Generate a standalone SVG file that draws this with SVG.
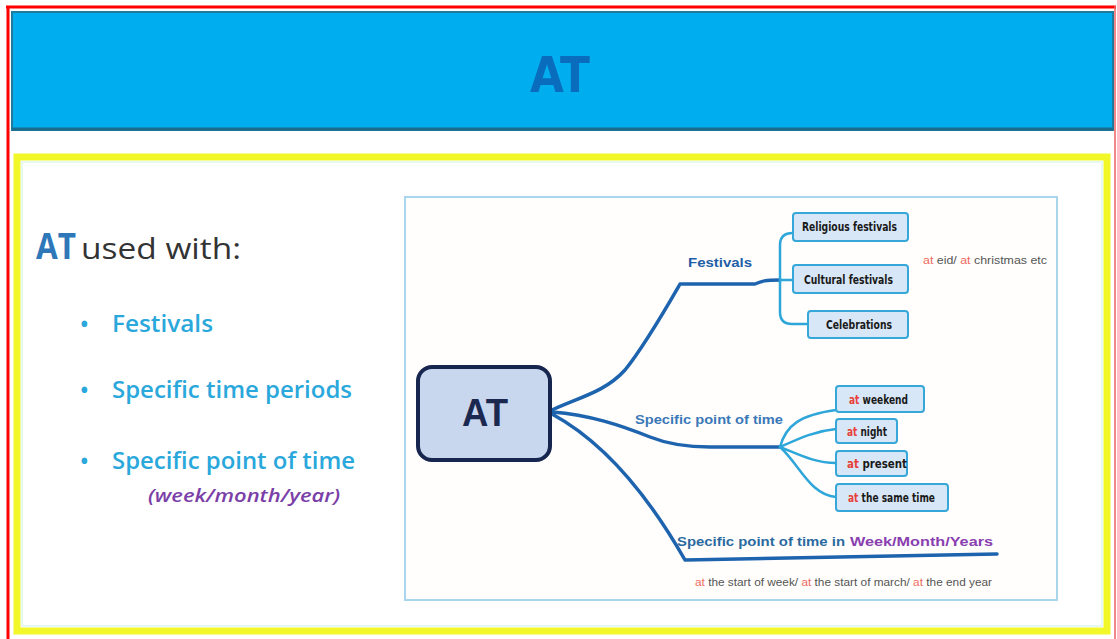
<svg xmlns="http://www.w3.org/2000/svg" width="1117" height="639" viewBox="0 0 1117 639">
  <style>
    .ttl { font-family: "Liberation Sans Narrow", "DejaVu Sans Condensed", "Liberation Sans", sans-serif; font-weight: bold; }
    .body { font-family: "Open Sans", "Liberation Sans", sans-serif; }
    .bul { fill: #2AA8DC; font-size: 23px; font-weight: 600; }
    .main { fill: none; stroke: #1D63AE; stroke-width: 3.5; stroke-linecap: round; stroke-linejoin: round; }
    .sub { fill: none; stroke: #2EA6DA; stroke-width: 2.5; stroke-linecap: round; }
    .box { fill: #D8E7F7; stroke: #35A7D8; stroke-width: 2; }
    .bx { font-family: "Liberation Sans Narrow", "DejaVu Sans Condensed", "Liberation Sans", sans-serif; font-weight: bold; font-size: 12px; fill: #1a1a1a; }
    .red { fill: #E8403A; }
    .lbl { font-family: "Liberation Sans", sans-serif; font-weight: bold; font-size: 12px; }
    .note { font-family: "Liberation Sans Narrow", "Liberation Sans", sans-serif; font-size: 11px; fill: #555; }
    .nred { fill: #EE6A60; }
  </style>

  <!-- page background and red outline -->
  <rect x="0" y="0" width="1117" height="639" fill="#ffffff"/>
  <line x1="8" y1="6" x2="8" y2="639" stroke="#FF0000" stroke-width="3"/>
  <line x1="6" y1="7" x2="1116" y2="7" stroke="#FF0000" stroke-width="3"/>
  <line x1="1115" y1="6" x2="1115" y2="639" stroke="#F06060" stroke-width="1.5"/>

  <!-- title bar -->
  <g id="title">
    <rect x="12" y="12" width="1101" height="118" fill="#00AEEF" stroke="#1F7A9E" stroke-width="2"/>
    <line x1="12" y1="129" x2="1113" y2="129" stroke="#1A6C8C" stroke-width="3"/>
    <text class="ttl" x="560" y="92" font-size="50" fill="#0A6CBC" text-anchor="middle" textLength="60" lengthAdjust="spacingAndGlyphs">AT</text>
  </g>

  <!-- yellow frame -->
  <rect x="17" y="157" width="1090" height="474" fill="#FFFFFF" stroke="#F2F72A" stroke-width="7"/>
  <rect x="22" y="162" width="1080" height="464" fill="none" stroke="#DFF6F0" stroke-width="1.5"/>

  <!-- bullet list -->
  <g id="usage-list">
    <text class="body" x="36" y="259" font-size="36" font-weight="bold" fill="#2E77B8" textLength="40" lengthAdjust="spacingAndGlyphs">AT</text>
    <text class="body" x="81" y="259" font-size="30" fill="#333333" textLength="160" lengthAdjust="spacingAndGlyphs">used with:</text>
    <g class="body bul">
      <text x="80" y="332">•</text>
      <text x="112" y="332" textLength="101" lengthAdjust="spacingAndGlyphs">Festivals</text>
      <text x="80" y="398">•</text>
      <text x="112" y="398" textLength="240" lengthAdjust="spacingAndGlyphs">Specific time periods</text>
      <text x="80" y="469">•</text>
      <text x="112" y="469" textLength="243" lengthAdjust="spacingAndGlyphs">Specific point of time</text>
    </g>
    <text class="body" x="148" y="502" font-size="18" font-style="italic" font-weight="600" fill="#7B3FA8" textLength="192" lengthAdjust="spacingAndGlyphs">(week/month/year)</text>
  </g>

  <!-- mind map panel -->
  <rect x="405" y="197" width="652" height="403" fill="#FFFEFC" stroke="#A9D6EC" stroke-width="2"/>

  <!-- connectors -->
  <g id="connectors">
    <path class="main" d="M552,410 C580,397 605,392 625,370 C645,345 665,310 680,284 L755,284 C762,281 765,280 780,280"/>
    <path class="main" d="M552,412 C590,415 620,425 650,437 C670,445 690,447 710,447 L780,447"/>
    <path class="main" d="M552,414 C600,440 645,490 685,560 L840,557 L997,554"/>
    <path class="sub" d="M780,282 V245 Q780,233 793,233"/>
    <path class="sub" d="M780,280 H793"/>
    <path class="sub" d="M780,282 V312 Q780,324 792,324 H808"/>
    <path class="sub" d="M780,447 C786,425 800,415 836,410"/>
    <path class="sub" d="M780,447 C800,438 815,431 836,429"/>
    <path class="sub" d="M780,447 C800,455 815,463 836,463"/>
    <path class="sub" d="M780,447 C800,465 810,495 836,497"/>
  </g>

  <!-- central node -->
  <g id="node-at">
    <rect x="418" y="367" width="132" height="93" rx="14" fill="#C9D7EE" stroke="#17264F" stroke-width="4"/>
    <text x="485" y="426" font-family="Liberation Sans, sans-serif" font-weight="bold" font-size="38" fill="#1B2850" text-anchor="middle" textLength="46" lengthAdjust="spacingAndGlyphs">AT</text>
  </g>

  <!-- branch labels -->
  <g id="label-festivals">
    <text class="lbl" x="688" y="267" fill="#1F5FA8" textLength="64" lengthAdjust="spacingAndGlyphs">Festivals</text>
  </g>
  <g id="label-point">
    <text class="lbl" x="635" y="424" fill="#3A78B8" textLength="148" lengthAdjust="spacingAndGlyphs">Specific point of time</text>
  </g>
  <g id="label-week">
    <text class="lbl" x="677" y="546" fill="#2A6AA0" textLength="168" lengthAdjust="spacingAndGlyphs">Specific point of time in</text>
    <text class="lbl" x="850" y="546" fill="#8A3FB0" textLength="143" lengthAdjust="spacingAndGlyphs">Week/Month/Years</text>
  </g>

  <!-- festival leaves -->
  <g id="node-religious">
    <rect class="box" x="793" y="213" width="115" height="28" rx="3"/>
    <text class="bx" x="802" y="231" textLength="95" lengthAdjust="spacingAndGlyphs">Religious festivals</text>
  </g>
  <g id="node-cultural">
    <rect class="box" x="793" y="265" width="115" height="28" rx="3"/>
    <text class="bx" x="804" y="284" textLength="89" lengthAdjust="spacingAndGlyphs">Cultural festivals</text>
  </g>
  <g id="node-celebrations">
    <rect class="box" x="808" y="311" width="100" height="27" rx="3"/>
    <text class="bx" x="826" y="329" textLength="66" lengthAdjust="spacingAndGlyphs">Celebrations</text>
  </g>
  <g id="note-festivals">
    <text class="note" x="923" y="264" textLength="124" lengthAdjust="spacingAndGlyphs"><tspan class="nred">at</tspan> eid/ <tspan class="nred">at</tspan> christmas etc</text>
  </g>

  <!-- point-of-time leaves -->
  <g id="node-weekend">
    <rect class="box" x="836" y="386" width="88" height="26" rx="3"/>
    <text class="bx" x="849" y="404" textLength="59" lengthAdjust="spacingAndGlyphs"><tspan class="red">at</tspan> weekend</text>
  </g>
  <g id="node-night">
    <rect class="box" x="836" y="419" width="61" height="24" rx="3"/>
    <text class="bx" x="847" y="436" textLength="40" lengthAdjust="spacingAndGlyphs"><tspan class="red">at</tspan> night</text>
  </g>
  <g id="node-present">
    <rect class="box" x="836" y="451" width="71" height="25" rx="3"/>
    <text class="bx" x="847" y="468" textLength="60" lengthAdjust="spacingAndGlyphs"><tspan class="red">at</tspan> present</text>
  </g>
  <g id="node-same-time">
    <rect class="box" x="836" y="484" width="112" height="27" rx="3"/>
    <text class="bx" x="848" y="502" textLength="87" lengthAdjust="spacingAndGlyphs"><tspan class="red">at</tspan> the same time</text>
  </g>

  <!-- week/month/year examples -->
  <g id="note-week">
    <text class="note" x="695" y="586" textLength="297" lengthAdjust="spacingAndGlyphs"><tspan class="nred">at</tspan> the start of week/ <tspan class="nred">at</tspan> the start of march/ <tspan class="nred">at</tspan> the end year</text>
  </g>
</svg>
